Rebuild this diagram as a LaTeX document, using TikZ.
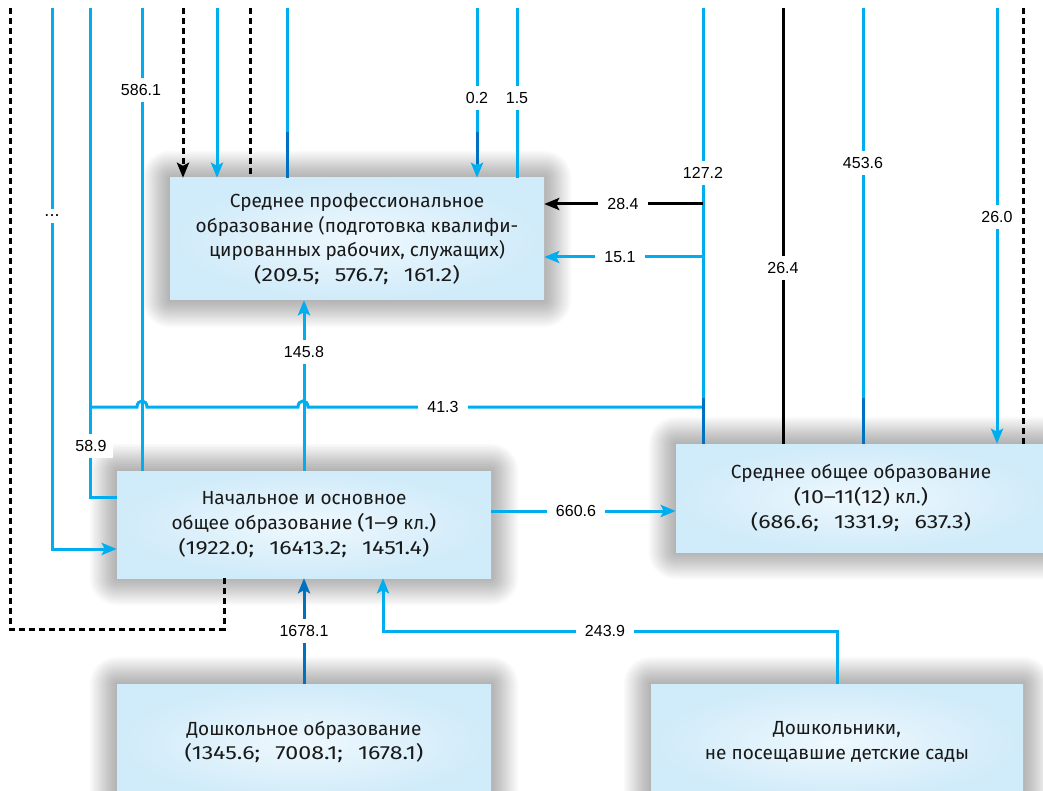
\documentclass[tikz,border=0pt]{standalone}
\usepackage{fontspec}
\setmainfont{Fira Sans}
\newfontfamily\numfont{Fira Sans}[FakeStretch=1.22]
\newfontfamily\lblfont{Liberation Sans}
\usetikzlibrary{arrows.meta}
\definecolor{cy}{RGB}{0,174,239}
\definecolor{dk}{RGB}{0,112,192}
\definecolor{boxout}{RGB}{208,235,249}
\definecolor{boxin}{RGB}{238,248,254}
\newcommand{\gp}{\hspace{0.8em}}
\newcommand{\softshadow}[4]{%
  \foreach \k in {1,...,16}{%
    \pgfmathsetmacro{\rr}{1.7*\k}%
    \fill[black, opacity=0.02, rounded corners=\rr pt]
      ({#1-\rr},{#2-\rr}) rectangle ({#3+\rr},{#4+\rr});}}
\begin{document}
\begin{tikzpicture}[x=1pt,y=-1pt,
  box/.style={draw=none, inner color=boxin, outer color=boxout,
    align=center, font=\fontsize{19}{24.7}\selectfont, text=black!90},
  cl/.style={draw=cy, line width=3pt},
  dl/.style={draw=dk, line width=3pt},
  bl/.style={draw=black, line width=3pt},
  dsh/.style={draw=black, line width=3pt, dash pattern=on 6pt off 4pt},
  tip/.style={-{Stealth[length=15pt,width=12pt,inset=3pt]}},
  lbl/.style={fill=white, font=\lblfont\fontsize{16}{19}\selectfont, inner xsep=4pt, inner ysep=6pt},
  hl/.style={lbl, inner xsep=9pt}
]
\useasboundingbox[fill=white] (0,0) rectangle (1043,791);

% soft shadows of the boxes
\softshadow{170}{178}{544}{300}
\softshadow{117}{471}{491}{578}
\softshadow{676}{444}{1046}{552}
\softshadow{117}{684}{491}{800}
\softshadow{651}{684}{1023}{800}

% boxes
\node[box, minimum width=374pt, minimum height=122pt] (spo) at (357,239)
  {Среднее профессиональное\\образование (подготовка квалифи-\\цированных рабочих, служащих)\\{\numfont(209.5;\gp 576.7;\gp 161.2)}};
\node[box, minimum width=374pt, minimum height=107pt] (noo) at (304,524.5)
  {Начальное и основное\\общее образование {\numfont(1–9} кл.{\numfont)}\\{\numfont(1922.0;\gp 16413.2;\gp 1451.4)}};
\node[box, minimum width=370pt, minimum height=108pt] (soo) at (861,498)
  {Среднее общее образование\\{\numfont(10–11(12)} кл.{\numfont)}\\{\numfont(686.6;\gp 1331.9;\gp 637.3)}};
\node[box, minimum width=374pt, minimum height=116pt] (do) at (304,742)
  {Дошкольное образование\\{\numfont(1345.6;\gp 7008.1;\gp 1678.1)}};
\node[box, minimum width=372pt, minimum height=116pt] (ndo) at (837,742)
  {Дошкольники,\\не посещавшие детские сады};

% top coordinates
\coordinate (a1) at (10,8);
\coordinate (a2) at (52,8);
\coordinate (a3) at (90,8);
\coordinate (a4) at (142,8);
\coordinate (a5) at (183,8);
\coordinate (a6) at (217,8);
\coordinate (a7) at (250,8);
\coordinate (a8) at (287,8);
\coordinate (a9) at (477,8);
\coordinate (a10) at (517,8);
\coordinate (a11) at (703,8);
\coordinate (a12) at (783,8);
\coordinate (a13) at (863,8);
\coordinate (a14) at (997,8);
\coordinate (a15) at (1023,8);
\coordinate (c1) at (224,629);
\coordinate (c2) at (52,549);
\coordinate (c3) at (90,497);
\coordinate (j1) at (90,407);
\coordinate (j2) at (703,407);
\coordinate (b1) at (703,204);
\coordinate (b2) at (703,257);
\coordinate (e1) at (491,511);
\coordinate (f1) at (383,631);

% connectors
\draw[dsh] (a1) |- (c1) -- (c1 |- noo.south);
\draw[cl,tip] (a2) -- (c2) -- (c2 -| noo.west);
\draw[cl] (a3) -- (c3) -- (c3 -| noo.west);
\draw[cl] (j1) -- (137,407) .. controls (137,399) and (147,399) .. (147,407)
  -- (298,407) .. controls (298,399) and (308,399) .. (308,407) -- (j2);
\draw[cl] (a4) -- (a4 |- noo.north);
\draw[dsh,tip] (a5) -- (a5 |- spo.north);
\draw[cl,tip] (a6) -- (a6 |- spo.north);
\draw[dsh] (a7) -- (a7 |- spo.north);
\draw[cl] (a8) -- (a8 |- spo.north);
\draw[dl] (287,132) -- (a8 |- spo.north);
\draw[cl,tip] (a9) -- (a9 |- spo.north);
\draw[dl] (477,132) -- (477,164);
\draw[cl] (a10) -- (a10 |- spo.north);
\draw[cl] (a11) -- (a11 |- soo.north);
\draw[dl] (703,398) -- (a11 |- soo.north);
\draw[bl,tip] (b1) -- (b1 -| spo.east);
\draw[cl,tip] (b2) -- (b2 -| spo.east);
\draw[bl] (a12) -- (a12 |- soo.north);
\draw[cl] (a13) -- (a13 |- soo.north);
\draw[dl] (863,398) -- (a13 |- soo.north);
\draw[cl,tip] (a14) -- (a14 |- soo.north);
\draw[dsh] (a15) -- (a15 |- soo.north);
\draw[cl,tip] (noo.north) -- (noo.north |- spo.south);
\draw[cl,tip] (e1) -- (e1 -| soo.west);
\draw[dl,tip] (do.north) -- (do.north |- noo.south);
\draw[cl,tip] (ndo.north) |- (f1) -- (f1 |- noo.south);

% labels
\node[lbl, font=\lblfont\fontsize{18}{19}\selectfont] (l1) at (52,216) {...};
\node[lbl] (l2) at (141,90) {586.1};
\node[lbl] (l3) at (477,98) {0.2};
\node[lbl] (l4) at (517,98) {1.5};
\node[lbl] (l5) at (703,173) {127.2};
\node[hl] (l6) at (623,204) {28.4};
\node[hl] (l7) at (620,257) {15.1};
\node[lbl] (l8) at (783,268) {26.4};
\node[lbl] (l9) at (863,163) {453.6};
\node[lbl] (l10) at (997,217) {26.0};
\node[lbl] (l11) at (304,352) {145.8};
\node[hl] (l12) at (443,407) {41.3};
\node[lbl, inner xsep=6pt] (l13) at (91,446) {58.9};
\node[hl] (l14) at (576,511) {660.6};
\node[lbl] (l15) at (304,631) {1678.1};
\node[hl] (l16) at (605,631) {243.9};
\end{tikzpicture}
\end{document}
